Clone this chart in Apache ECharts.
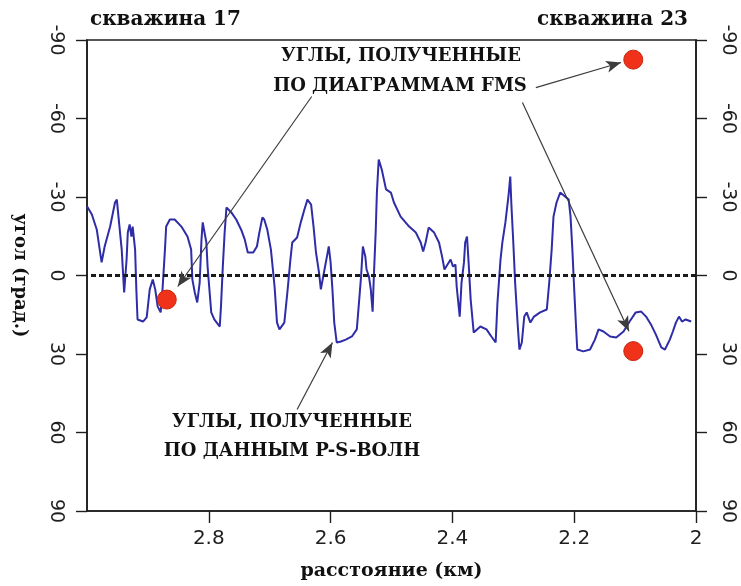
<!DOCTYPE html>
<html><head><meta charset="utf-8">
<script src="https://cdn.jsdelivr.net/npm/echarts@6/dist/echarts.min.js"></script>
<style>html,body{margin:0;padding:0;background:#fff}#c{width:741px;height:586px}</style>
</head><body><div id="c"></div>
<script>
// P-S wave derived angle profile
const distanceKm = [3.000,2.992,2.984,2.976,2.971,2.962,2.954,2.951,2.949,2.943,2.939,2.935,2.933,2.930,2.927,2.925,2.921,2.919,2.917,2.908,2.902,2.897,2.892,2.888,2.884,2.879,2.876,2.872,2.870,2.864,2.856,2.845,2.835,2.829,2.827,2.823,2.819,2.815,2.812,2.810,2.804,2.802,2.799,2.796,2.791,2.782,2.780,2.777,2.774,2.771,2.763,2.755,2.747,2.741,2.736,2.727,2.721,2.717,2.712,2.709,2.704,2.698,2.692,2.688,2.684,2.676,2.671,2.666,2.663,2.655,2.649,2.643,2.638,2.632,2.628,2.624,2.619,2.616,2.610,2.606,2.603,2.600,2.597,2.594,2.590,2.583,2.575,2.565,2.557,2.553,2.550,2.547,2.543,2.541,2.537,2.534,2.531,2.529,2.526,2.524,2.521,2.516,2.509,2.501,2.496,2.485,2.471,2.460,2.452,2.448,2.444,2.439,2.430,2.422,2.417,2.413,2.406,2.403,2.399,2.395,2.393,2.388,2.385,2.381,2.379,2.376,2.373,2.370,2.365,2.354,2.344,2.336,2.329,2.326,2.321,2.318,2.313,2.308,2.305,2.303,2.300,2.297,2.293,2.290,2.286,2.282,2.278,2.272,2.266,2.256,2.245,2.241,2.237,2.234,2.229,2.223,2.215,2.209,2.206,2.203,2.200,2.197,2.195,2.185,2.174,2.166,2.160,2.152,2.141,2.131,2.119,2.109,2.099,2.090,2.082,2.074,2.066,2.057,2.051,2.043,2.038,2.033,2.028,2.023,2.017,2.008];
const angleDeg = [-26.5,-23.3,-17.6,-5.0,-11.1,-18.7,-27.9,-29.0,-24.1,-9.9,6.5,-6.1,-16.4,-19.5,-14.9,-18.7,-9.9,5.3,16.8,17.6,16.0,5.3,1.5,5.3,11.8,14.1,5.3,-9.9,-18.7,-21.4,-21.4,-18.7,-14.9,-9.9,1.5,6.5,10.3,2.7,-13.8,-20.3,-12.6,-3.4,5.3,14.1,16.8,19.5,11.8,-3.4,-16.4,-26.0,-24.1,-21.4,-17.6,-13.8,-8.8,-8.8,-11.1,-16.4,-22.2,-21.4,-17.6,-9.9,4.2,18.0,20.6,18.0,6.5,-6.1,-12.6,-14.5,-20.3,-25.2,-29.0,-27.1,-18.7,-8.8,-1.1,5.3,-2.3,-7.3,-11.1,-5.0,5.3,18.0,25.6,25.2,24.5,23.3,20.6,9.2,0.4,-11.1,-7.3,-2.3,0.4,5.3,13.8,0.4,-16.4,-31.7,-44.3,-40.5,-32.9,-31.7,-27.9,-22.5,-18.7,-16.4,-12.6,-9.2,-12.6,-18.3,-16.4,-12.6,-7.3,-2.3,-5.0,-6.1,-3.4,-4.2,4.2,15.7,2.7,-5.0,-12.6,-14.9,-3.4,9.2,21.8,19.5,20.6,23.3,25.6,10.3,-6.1,-12.6,-20.3,-30.2,-37.8,-26.4,-12.6,2.7,18.0,28.3,25.6,15.7,14.1,18.0,15.7,14.1,13.0,2.7,-9.9,-22.5,-27.9,-31.7,-30.2,-29.0,-22.5,-9.9,5.3,19.5,28.3,29.0,28.3,24.5,20.6,21.4,23.3,23.7,21.4,17.6,14.1,13.8,15.7,18.7,22.5,27.5,28.3,24.5,21.4,18.0,15.7,17.6,16.8,17.6];
// FMS log derived angles
const fmsDistanceKm = [2.869, 2.103, 2.103];
const fmsAngleDeg = [9.2, -82.5, 28.9];
// annotation arrows (data coordinates)
const arrowFrom = [[2.631,-68.4],[2.263,-71.8],[2.285,-66.1],[2.655,51.2]];
const arrowTo   = [[2.851,4.2],[2.123,-81.4],[2.110,21.3],[2.597,25.6]];

const chart = echarts.init(document.getElementById('c'), null, {renderer:'canvas'});
const ink = '#1e1e1e';
const tickFont = {fontFamily:'DejaVu Sans', fontSize:19, color:ink};
function yAxisCfg(pos, withName){
  const a = {
    type:'value', position:pos, min:-90, max:90, interval:30, inverse:true,
    axisLine:{show:true, onZero:false, lineStyle:{color:ink, width:1.6}},
    axisTick:{show:true, length:11, lineStyle:{color:ink, width:1.4}},
    axisLabel:Object.assign({rotate:-90, margin:22}, tickFont),
    splitLine:{show:false}
  };
  if(withName){
    a.name='угол (град.)'; a.nameLocation='middle'; a.nameRotate=-90; a.nameGap=58;
    a.nameTextStyle={fontFamily:'DejaVu Serif', fontWeight:'bold', fontSize:18, color:'#111'};
  }
  return a;
}
const option = {
  animation:false,
  backgroundColor:'#fff',
  grid:{left:87, right:45, top:40, bottom:74, show:true, borderColor:ink, borderWidth:1.6},
  xAxis:{
    type:'value', min:2, max:3, interval:0.2, inverse:true, position:'bottom',
    axisLine:{show:true, onZero:false, lineStyle:{color:ink, width:1.6}},
    axisTick:{show:true, length:12, lineStyle:{color:ink, width:1.4}},
    axisLabel:Object.assign({showMaxLabel:false, margin:18}, tickFont, {fontSize:20}),
    splitLine:{show:false},
    name:'расстояние (км)', nameLocation:'middle', nameGap:51,
    nameTextStyle:{fontFamily:'DejaVu Serif', fontWeight:'bold', fontSize:19, color:'#111'}
  },
  yAxis:[yAxisCfg('left', true), yAxisCfg('right', false)],
  series:[
    {
      type:'line', name:'P-S', showSymbol:false,
      data: distanceKm.map((d,i)=>[d, angleDeg[i]]),
      lineStyle:{color:'#2f2ca8', width:2},
      markLine:{
        silent:true, symbol:['none','none'], label:{show:false},
        lineStyle:{color:'#1a1a1a', width:3, type:[5,3]},
        data:[{yAxis:0}]
      },
      z:3
    },
    {
      type:'scatter', name:'FMS', symbolSize:19,
      data: fmsDistanceKm.map((d,i)=>[d, fmsAngleDeg[i]]),
      itemStyle:{color:'#f0321a', borderColor:'#c8260e', borderWidth:1, opacity:1},
      markLine:{
        silent:true, symbol:['none','arrow'], symbolSize:[9,15], label:{show:false},
        lineStyle:{color:'#3c3c3c', width:1.2, type:'solid', opacity:1},
        data: arrowFrom.map((f,i)=>[{coord:f},{coord:arrowTo[i]}])
      },
      z:4
    }
  ],
  graphic:[
    {type:'text', x:90, y:20, style:{text:'скважина 17', font:'bold 20px "DejaVu Serif"', fill:'#111', align:'left', verticalAlign:'middle'}},
    {type:'text', x:688, y:20, style:{text:'скважина 23', font:'bold 20px "DejaVu Serif"', fill:'#111', align:'right', verticalAlign:'middle'}},
    {type:'text', x:401, y:56, style:{text:'УГЛЫ, ПОЛУЧЕННЫЕ', font:'bold 18px "DejaVu Serif"', fill:'#111', align:'center', verticalAlign:'middle'}},
    {type:'text', x:400, y:86, style:{text:'ПО ДИАГРАММАМ FMS', font:'bold 18px "DejaVu Serif"', fill:'#111', align:'center', verticalAlign:'middle'}},
    {type:'text', x:292, y:422, style:{text:'УГЛЫ, ПОЛУЧЕННЫЕ', font:'bold 18px "DejaVu Serif"', fill:'#111', align:'center', verticalAlign:'middle'}},
    {type:'text', x:292, y:451, style:{text:'ПО ДАННЫМ P-S-ВОЛН', font:'bold 18px "DejaVu Serif"', fill:'#111', align:'center', verticalAlign:'middle'}}
  ]
};
chart.setOption(option);
</script></body></html>
